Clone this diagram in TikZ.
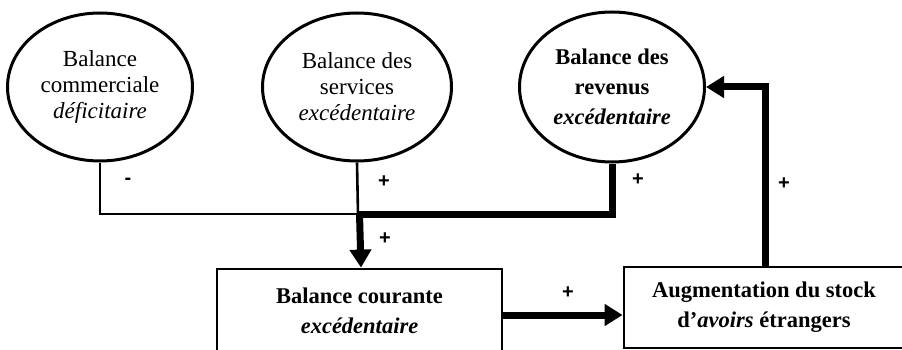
\documentclass[tikz,border=0pt]{standalone}
\usepackage{fontspec}
\setmainfont{Liberation Serif}
\newfontfamily\signfont{Liberation Sans}
\usetikzlibrary{shapes.geometric,arrows.meta}
\begin{document}
\begin{tikzpicture}[x=1pt,y=-1pt,
  ell/.style={draw,ellipse,line width=3pt,inner sep=0pt,align=center,
    font=\fontsize{23}{26}\selectfont},
  box/.style={draw,rectangle,line width=2.8pt,inner sep=0pt,align=center,
    font=\fontsize{22.5}{30}\selectfont\bfseries},
  thin/.style={line width=2.6pt},
  thickline/.style={line width=7pt},
  thickarrow/.style={line width=7pt,-{Triangle[length=18pt,width=21pt]}},
  sign/.style={font=\signfont\bfseries\fontsize{20}{20}\selectfont,inner sep=0pt}]
\useasboundingbox (0,0) rectangle (902,350);
\fill[white] (0,0) rectangle (902,350);
\node[ell,minimum width=185pt,minimum height=148pt] (e1) at (100,87)
  {Balance\\commerciale\\\textit{déficitaire}};
\node[ell,minimum width=189pt,minimum height=148pt] (e2) at (357,87)
  {Balance des\\services\\\textit{excédentaire}};
\node[ell,minimum width=185pt,minimum height=150pt,
  font=\fontsize{22.5}{30}\selectfont\bfseries] (e3) at (612,87)
  {Balance des\\revenus\\\textit{excédentaire}};
\node[box,minimum width=285pt,minimum height=92pt] (b1) at (359.5,315)
  {Balance courante\\\textit{excédentaire}\\[-22pt]\mbox{}};
\node[box,minimum width=280pt,minimum height=81pt] (b2) at (764,307.5)
  {Augmentation du stock\\d’\textit{avoirs} étrangers};
\coordinate (j) at (358,214);
\coordinate (up) at (765,250);
% connectors
\draw[thin] (e1.south) |- (j);
\draw[thin] (e2.south) -- (j);
\draw[thickline] (e3.south) |- ([xshift=-1.25pt]j);
\draw[thickarrow] ([xshift=1.5pt]j) -- ([xshift=1.5pt]b1.north);
\draw[thickarrow] (b1.east) -- (b1.east -| b2.west);
\draw[thickarrow] (b2.north -| up) |- (e3.east);
% signs
\node[sign] (s1) at (128,181) {-};
\node[sign] (s2) at (384,182) {+};
\node[sign] (s3) at (638,180) {+};
\node[sign] (s4) at (784,184) {+};
\node[sign] (s5) at (385,239) {+};
\node[sign] (s6) at (568,293) {+};
\end{tikzpicture}
\end{document}
